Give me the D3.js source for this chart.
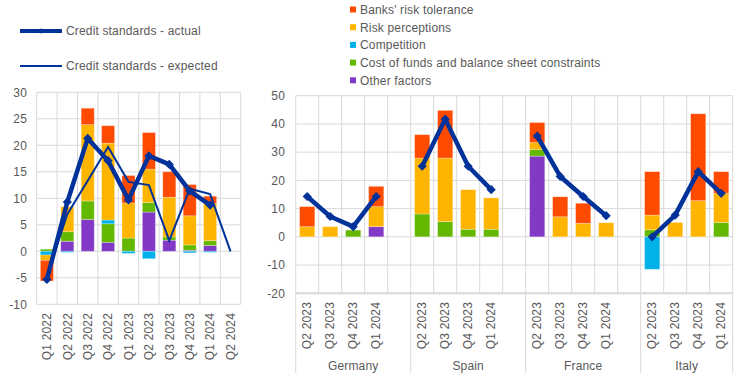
<!DOCTYPE html>
<html><head>
<meta charset="utf-8">
<title>Credit standards - factors</title>
<script src="https://d3js.org/d3.v7.min.js"></script>
<style>
  body { margin: 0; background: #fff; }
  svg text {
    font-family: "Liberation Sans", Arial, sans-serif;
    font-size: 12px;
    letter-spacing: 0.16px;
    fill: #595959;
  }
  .grid line { stroke: #d9d9d9; stroke-width: 1; }
  .bar rect { stroke: #fff; stroke-opacity: 0.35; stroke-width: 0.8; }
</style>
</head>
<body>
<svg id="chart" width="744" height="384"></svg>
<script>

// 1. Data
let seriesKeys = ["other", "cost", "comp", "perc", "tol"];
let seriesNames = {
  tol: "Banks' risk tolerance",
  perc: "Risk perceptions",
  comp: "Competition",
  cost: "Cost of funds and balance sheet constraints",
  other: "Other factors"
};
let seriesColors = { tol: "#FF4B00", perc: "#FFB400", comp: "#00B1EA", cost: "#65B800", other: "#8139C6" };
let legendOrder = ["tol", "perc", "comp", "cost", "other"];

// left panel (euro area)
let leftQuarters = ["Q1 2022", "Q2 2022", "Q3 2022", "Q4 2022", "Q1 2023", "Q2 2023", "Q3 2023", "Q4 2023", "Q1 2024", "Q2 2024"];
let leftOther  = [0,    1.9, 6.0,  1.7,  0,    7.4,  2.1, 0.2,  1.1, 0];
let leftCost   = [0.4,  1.8, 3.5,  3.5,  2.5,  1.8,  0.6, 1.0,  0.9, 0];
let leftComp   = [-0.7, -0.2, 0,   0.7,  -0.4, -1.4, 0,   -0.3, -0.2, 0];
let leftPerc   = [-1.0, 4.7, 14.4, 14.5, 6.6,  6.3,  7.5, 5.5,  7.0, 0];
let leftTol    = [-3.9, 0,   3.1,  3.3,  5.2,  6.9,  4.8, 5.9,  1.4, 0];
let leftActual   = [-5.3, 9.3, 21.3, 17.1, 9.7, 18.0, 16.4, 11.4, 8.7, null];
let leftExpected = [-4.6, 7.0, 13.3, 19.7, 13.1, 12.5, 2.0, 11.8, 10.8, 0];
let leftTicks = [-10, -5, 0, 5, 10, 15, 20, 25, 30];

// right panel (countries)
let countries = ["Germany", "Spain", "France", "Italy"];
let rightQuarters = ["Q2 2023", "Q3 2023", "Q4 2023", "Q1 2024"];
let rightOther  = [0, 0, 0, 3.6,      0, 0, 0, 0,            28.6, 0, 0, 0,      0, 0, 0, 0];
let rightCost   = [0, 0, 2.4, 0,      8.1, 5.4, 2.7, 2.7,    2.4, 0, 0, 0,       2.5, 0, 0, 5.1];
let rightComp   = [0, 0, 0, 0,        0, 0, 0, 0,            0, 0, 0, 0,         -11.5, 0, 0, 0];
let rightPerc   = [3.6, 3.6, 0, 7.1,  19.8, 22.5, 14.0, 11.1, 2.4, 7.1, 4.8, 5.0, 5.2, 5.1, 12.8, 10.3];
let rightTol    = [7.1, 0, 0, 7.2,    8.3, 16.9, 0, 0,       7.1, 7.1, 7.1, 0,   15.4, 0, 30.8, 7.7];
let rightActual = [14.3, 7.2, 3.6, 14.3, 25.0, 41.7, 25.0, 16.7, 35.7, 21.4, 14.3, 7.5, 0, 7.7, 23.1, 15.4];
let rightTicks = [-20, -10, 0, 10, 20, 30, 40, 50];

let lineColor = "#003299";

// 2. Housekeeping
let svg = d3.select("svg#chart");

let stack = d3.stack().keys(seriesKeys).offset(d3.stackOffsetDiverging);
let diamond = d3.symbol().type(d3.symbolSquare).size(42);

function drawGrid(g, x0, x1, yScale, ticks, nSlots) {
  let grid = g.append("g").attr("class", "grid");
  grid.selectAll("line.h").data(ticks).join("line")
    .attr("class", "h")
    .attr("x1", x0).attr("x2", x1)
    .attr("y1", d => yScale(d)).attr("y2", d => yScale(d));
  let step = (x1 - x0) / nSlots;
  grid.selectAll("line.v").data(d3.range(nSlots + 1)).join("line")
    .attr("class", "v")
    .attr("x1", i => x0 + i * step).attr("x2", i => x0 + i * step)
    .attr("y1", yScale(ticks[ticks.length - 1])).attr("y2", yScale(ticks[0]));
}

function drawBars(g, rows, xScale) {
  let stacked = stack(rows);
  g.append("g").attr("class", "bar")
    .selectAll("g").data(stacked).join("g")
    .attr("fill", s => seriesColors[s.key])
    .selectAll("rect").data(s => s.filter(d => d[1] - d[0] !== 0)).join("rect")
    .attr("x", d => xScale(d.data.slot))
    .attr("width", xScale.bandwidth())
    .attr("y", d => yPos(d))
    .attr("height", d => hPos(d));
}

// 3. Left panel
let lx0 = 36.7, lx1 = 240.7;
let lyScale = d3.scaleLinear().domain([-10, 30]).range([304.3, 92.3]);
let lxScale = d3.scaleBand().domain(leftQuarters).range([lx0, lx1]).paddingInner(0.36).paddingOuter(0.18);

let left = svg.append("g");
drawGrid(left, lx0, lx1, lyScale, leftTicks, leftQuarters.length);

let yPos, hPos;
yPos = d => lyScale(Math.max(d[0], d[1]));
hPos = d => Math.abs(lyScale(d[0]) - lyScale(d[1]));

let leftRows = leftQuarters.map((q, i) => ({
  slot: q, other: leftOther[i], cost: leftCost[i], comp: leftComp[i], perc: leftPerc[i], tol: leftTol[i]
}));
drawBars(left, leftRows, lxScale);

let lxc = q => lxScale(q) + lxScale.bandwidth() / 2;

let expLine = d3.line()
  .defined(d => d.v !== null)
  .x(d => lxc(d.q)).y(d => lyScale(d.v));
left.append("path")
  .datum(leftQuarters.map((q, i) => ({ q: q, v: leftExpected[i] })))
  .attr("d", expLine)
  .attr("fill", "none").attr("stroke", lineColor).attr("stroke-width", 2);

let actData = leftQuarters.map((q, i) => ({ q: q, v: leftActual[i] })).filter(d => d.v !== null);
left.append("path")
  .datum(actData)
  .attr("d", expLine)
  .attr("fill", "none").attr("stroke", lineColor).attr("stroke-width", 4.5)
  .attr("stroke-linejoin", "round");
left.selectAll("path.mk").data(actData).join("path")
  .attr("class", "mk")
  .attr("d", diamond)
  .attr("transform", d => "translate(" + lxc(d.q) + "," + lyScale(d.v) + ") rotate(45)")
  .attr("fill", lineColor);

// y labels
left.selectAll("text.yl").data(leftTicks).join("text")
  .attr("class", "yl")
  .attr("x", 27).attr("y", d => lyScale(d)).attr("dy", "0.35em")
  .attr("text-anchor", "end")
  .text(d => d);

// x labels
left.selectAll("text.xl").data(leftQuarters).join("text")
  .attr("class", "xl")
  .attr("text-anchor", "end")
  .attr("transform", d => "translate(" + lxc(d) + ",313) rotate(-90)")
  .attr("dy", "0.35em")
  .text(d => d);

// left legend
let leg1 = svg.append("g");
leg1.append("line").attr("x1", 20).attr("x2", 62).attr("y1", 31).attr("y2", 31)
  .attr("stroke", lineColor).attr("stroke-width", 4);
leg1.append("path").attr("d", d3.symbol().type(d3.symbolSquare).size(14))
  .attr("transform", "translate(41,31) rotate(45)").attr("fill", lineColor);
leg1.append("text").attr("x", 66).attr("y", 35).text("Credit standards - actual");
leg1.append("line").attr("x1", 20).attr("x2", 62).attr("y1", 66).attr("y2", 66)
  .attr("stroke", lineColor).attr("stroke-width", 2);
leg1.append("text").attr("x", 66).attr("y", 70).text("Credit standards - expected");

// 4. Right panel
let rx0 = 295.7, rx1 = 732.7;
let ryScale = d3.scaleLinear().domain([-20, 50]).range([293.3, 95.7]);

let slots = [];
countries.forEach((c, ci) => {
  rightQuarters.forEach(q => slots.push(c + "|" + q));
  if (ci < countries.length - 1) slots.push(c + "|gap");
});
let rxScale = d3.scaleBand().domain(slots).range([rx0, rx1]).paddingInner(0.34).paddingOuter(0.17);
let rStep = (rx1 - rx0) / slots.length;

let right = svg.append("g");
drawGrid(right, rx0, rx1, ryScale, rightTicks, slots.length);
right.append("line").attr("x1", rx0).attr("x2", rx1).attr("y1", ryScale(-20)).attr("y2", ryScale(-20))
  .attr("stroke", "#d9d9d9").attr("stroke-width", 2);

yPos = d => ryScale(Math.max(d[0], d[1]));
hPos = d => Math.abs(ryScale(d[0]) - ryScale(d[1]));

let rightRows = [];
countries.forEach((c, ci) => {
  rightQuarters.forEach((q, qi) => {
    let i = ci * 4 + qi;
    rightRows.push({ slot: c + "|" + q, country: c, q: q, other: rightOther[i], cost: rightCost[i],
      comp: rightComp[i], perc: rightPerc[i], tol: rightTol[i], actual: rightActual[i] });
  });
});
drawBars(right, rightRows, rxScale);

let rxc = s => rxScale(s) + rxScale.bandwidth() / 2;
let rLine = d3.line().x(d => rxc(d.slot)).y(d => ryScale(d.actual));
countries.forEach(c => {
  let pts = rightRows.filter(d => d.country === c);
  right.append("path").datum(pts).attr("d", rLine)
    .attr("fill", "none").attr("stroke", lineColor).attr("stroke-width", 4.5)
    .attr("stroke-linejoin", "round");
});
right.selectAll("path.mk").data(rightRows).join("path")
  .attr("class", "mk")
  .attr("d", diamond)
  .attr("transform", d => "translate(" + rxc(d.slot) + "," + ryScale(d.actual) + ") rotate(45)")
  .attr("fill", lineColor);

right.selectAll("text.yl").data(rightTicks).join("text")
  .attr("class", "yl")
  .attr("x", 285).attr("y", d => ryScale(d)).attr("dy", "0.35em")
  .attr("text-anchor", "end")
  .text(d => d);

right.selectAll("text.xl").data(rightRows).join("text")
  .attr("class", "xl")
  .attr("text-anchor", "end")
  .attr("transform", d => "translate(" + rxc(d.slot) + ",302) rotate(-90)")
  .attr("dy", "0.35em")
  .text(d => d.q);

// group separators and country names
let groupStarts = countries.map((c, ci) => rx0 + ci * 5 * rStep);
let groupEnds = countries.map((c, ci) => Math.min(rx0 + (ci * 5 + 5) * rStep, rx1));
right.selectAll("line.sep").data(groupStarts.concat([rx1])).join("line")
  .attr("class", "sep")
  .attr("x1", d => d).attr("x2", d => d)
  .attr("y1", ryScale(-20)).attr("y2", 373)
  .attr("stroke", "#d9d9d9");
right.selectAll("text.country").data(countries).join("text")
  .attr("class", "country")
  .attr("text-anchor", "middle")
  .attr("x", (c, ci) => (groupStarts[ci] + groupEnds[ci]) / 2)
  .attr("y", 370)
  .text(c => c);

// right legend
let leg2 = svg.append("g");
legendOrder.forEach((k, i) => {
  let y = 9.5 + i * 17.7;
  leg2.append("rect").attr("x", 350).attr("y", y - 3).attr("width", 6).attr("height", 6)
    .attr("fill", seriesColors[k]);
  leg2.append("text").attr("x", 360).attr("y", y + 4.5).text(seriesNames[k]);
});

</script>
</body>
</html>
